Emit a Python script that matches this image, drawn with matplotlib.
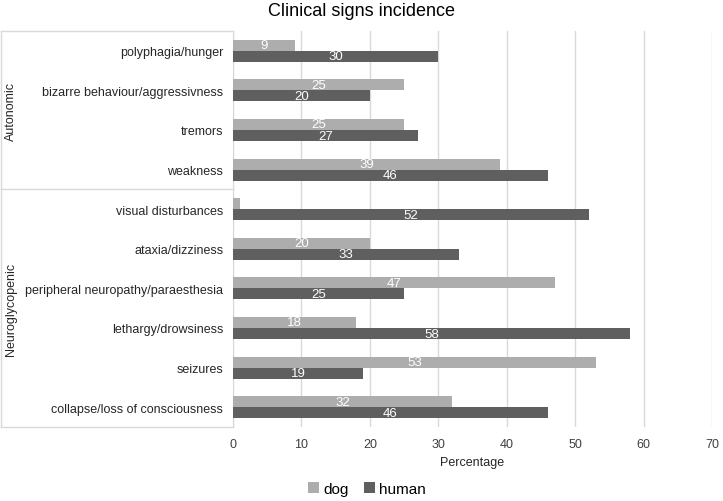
import matplotlib.pyplot as plt
import matplotlib.transforms as mtransforms
import numpy as np

plt.rcParams['font.family'] = ['Liberation Sans', 'DejaVu Sans']

categories = ["polyphagia/hunger", "bizarre behaviour/aggressivness", "tremors", "weakness",
              "visual disturbances", "ataxia/dizziness", "peripheral neuropathy/paraesthesia",
              "lethargy/drowsiness", "seizures", "collapse/loss of consciousness"]
dog = [9, 25, 25, 39, 1, 20, 47, 18, 53, 32]
human = [30, 20, 27, 46, 52, 33, 25, 58, 19, 46]
groups = ["Autonomic", "Neuroglycopenic"]
group_sizes = [4, 6]

dog_color = "#adadad"
human_color = "#5f5f5f"
line_color = "#d9d9d9"

fig = plt.figure(figsize=(7.23, 5.02), dpi=100)
ax = fig.add_axes([233 / 723, 1 - 428 / 502, 479 / 723, 396 / 502])

y = np.arange(len(categories))
h = 0.28
bars_dog = ax.barh(y - h / 2, dog, height=h, color=dog_color, label="dog", zorder=3)
bars_human = ax.barh(y + h / 2, human, height=h, color=human_color, label="human", zorder=3)

for bars, vals in [(bars_dog, dog), (bars_human, human)]:
    for bar, v in zip(bars, vals):
        if v < 3:
            continue
        ax.text(v / 2, bar.get_y() + bar.get_height() / 2, str(v), color="white",
                ha="center", va="center", fontsize=9.5, zorder=4)

ax.set_xlim(0, 70)
ax.set_ylim(len(categories) - 0.5, -0.5)
ax.set_xticks(range(0, 71, 10))
ax.set_yticks(y)
ax.set_yticklabels(categories, fontsize=9, color="#262626")
ax.tick_params(axis="y", length=0, pad=7)
ax.tick_params(axis="x", length=0, pad=8, labelsize=9, labelcolor="#404040")
ax.grid(axis="x", color=line_color, linewidth=1, zorder=0)
for s in ["top", "right", "bottom"]:
    ax.spines[s].set_visible(False)
ax.spines["left"].set_color(line_color)
ax.set_xlabel("Percentage", fontsize=9, color="#262626", labelpad=4)
fig.text(0.5, 1 - 11 / 502, "Clinical signs incidence", fontsize=13, ha="center", va="center")

# group box on the left
trans = mtransforms.blended_transform_factory(ax.transAxes, ax.transData)
x0 = -232 / 479
bounds = [-0.5]
for n in group_sizes:
    bounds.append(bounds[-1] + n)
for b in bounds:
    ax.plot([x0, 0], [b, b], color=line_color, lw=1, transform=trans, clip_on=False)
ax.plot([x0, x0], [bounds[0], bounds[-1]], color=line_color, lw=1, transform=trans, clip_on=False)
for g, a, b in zip(groups, bounds[:-1], bounds[1:]):
    ax.text(x0 + 10 / 479, (a + b) / 2, g, rotation=90, ha="center", va="center",
            fontsize=9, color="#262626", transform=trans)

fig.legend(handles=[bars_dog, bars_human], loc="center", bbox_to_anchor=(367 / 723, 1 - 490 / 502),
           ncol=2, frameon=False, fontsize=11, handlelength=0.7, handleheight=0.7,
           handletextpad=0.3, columnspacing=1.0)

fig.savefig("out.png", dpi=100)
